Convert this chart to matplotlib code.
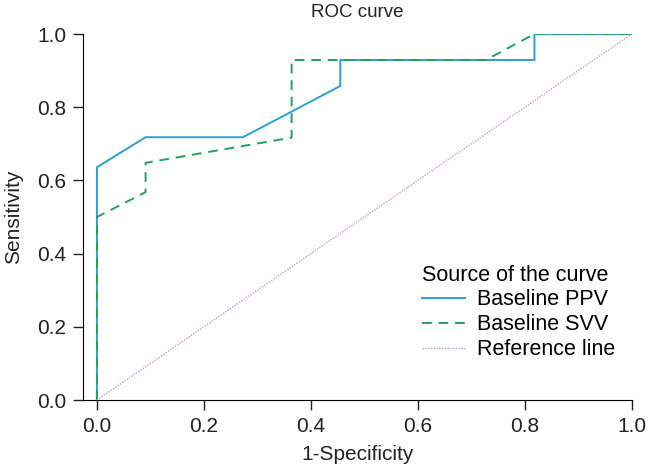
import matplotlib
matplotlib.use('Agg')
import matplotlib.pyplot as plt

plt.rcParams['font.family'] = ['Liberation Sans', 'DejaVu Sans']

# ROC points
ppv_fpr = [0.0, 0.0, 0.091, 0.273, 0.455, 0.455, 0.818, 0.818, 1.0]
ppv_tpr = [0.0, 0.636, 0.718, 0.718, 0.858, 0.929, 0.929, 1.0, 1.0]
svv_fpr = [0.0, 0.0, 0.091, 0.091, 0.364, 0.364, 0.727, 0.818, 1.0]
svv_tpr = [0.0, 0.5, 0.568, 0.648, 0.717, 0.929, 0.929, 1.0, 1.0]
ref_line = [0.0, 1.0]
ticks = [0.0, 0.2, 0.4, 0.6, 0.8, 1.0]

fig = plt.figure(figsize=(6.46, 4.71), dpi=100)
ax = fig.add_axes([0.1285, 0.1507, 0.978 - 0.1285, 0.9278 - 0.1507])

ax.plot(ppv_fpr, ppv_tpr, color='#2b9fd8', lw=1.4, label='Baseline PPV')
ax.plot(svv_fpr, svv_tpr, color='#21a05e', lw=1.4, ls=(0, (5, 3.5)), label='Baseline SVV')
ax.plot(ref_line, ref_line, color='#c89ad6', lw=1.0, ls=(0, (1, 1)), label='Reference line')

ax.set_xlim(-0.026, 1.0)
ax.set_ylim(0, 1.0)
ax.set_xticks(ticks)
ax.set_yticks(ticks)
ax.set_xticklabels(['%.1f' % t for t in ticks])
ax.set_yticklabels(['%.1f' % t for t in ticks])
ax.spines['top'].set_visible(False)
ax.spines['right'].set_visible(False)
ax.spines['bottom'].set_bounds(-0.026, 1.0)
ax.tick_params(direction='out', length=7, width=1, labelsize=15, colors='#222222')
ax.tick_params(axis='x', pad=5)
ax.tick_params(axis='y', pad=5)

ax.set_xlabel('1-Specificity', fontsize=15, color='#222222', labelpad=7)
ax.set_ylabel('Sensitivity', fontsize=15, color='#222222', labelpad=10)
ax.set_title('ROC curve', fontsize=13.5, color='#222222', pad=12)

leg = ax.legend(title='Source of the curve', loc='upper left', bbox_to_anchor=(0.617, 0.37),
                frameon=False, fontsize=15.5, title_fontsize=15.5, handlelength=2.0,
                handletextpad=0.55, labelspacing=0.18, borderpad=0, borderaxespad=0)
leg._legend_box.align = 'left'

fig.savefig('out.png', dpi=100)
